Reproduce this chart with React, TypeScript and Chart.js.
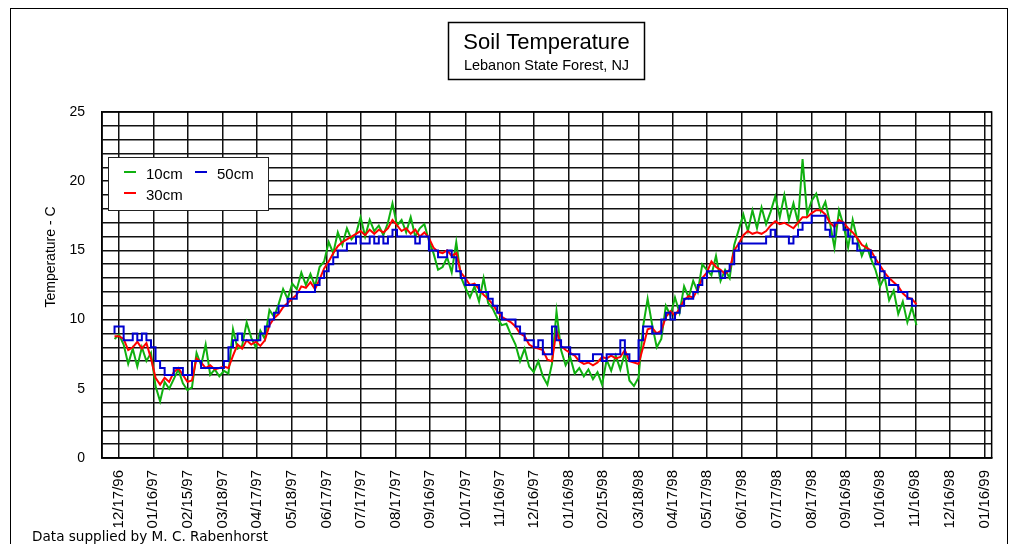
import React, { useEffect, useRef } from "react";
import { Chart, registerables } from "chart.js";

Chart.register(...registerables);

const TITLE = "Soil Temperature";
const SUBTITLE = "Lebanon State Forest, NJ";
const Y_TITLE = "Temperature - C";
const FOOTER = "Data supplied by M. C. Rabenhorst";

// x axis: days counted from 12/17/96
const TICK_DAYS = [0, 30, 60, 91, 121, 152, 182, 212, 243, 273, 304, 334, 364, 395, 425, 456, 486, 516, 547, 577, 608, 638, 668, 699, 729, 760];
const TICK_LABELS = [
  "12/17/96", "01/16/97", "02/15/97", "03/18/97", "04/17/97", "05/18/97", "06/17/97", "07/17/97",
  "08/17/97", "09/16/97", "10/17/97", "11/16/97", "12/16/97", "01/16/98", "02/15/98", "03/18/98",
  "04/17/98", "05/17/98", "06/17/98", "07/17/98", "08/17/98", "09/16/98", "10/16/98", "11/16/98",
  "12/16/98", "01/16/99",
];
const Y_TICK_LABELS = ["0", "5", "10", "15", "20", "25"];

// samples every 4 days starting at day -4
const FIRST_DAY = -4;
const DAY_STEP = 4;

const SERIES_NAMES = ["10cm", "30cm", "50cm"];
const SERIES_COLORS = ["#10b010", "#ff0000", "#0000d0"];

const T10 = [
  8.6, 8.9, 8.2, 6.8, 7.9, 6.6, 8.0, 7.0, 7.6, 5.2,
  4.1, 5.5, 5.0, 5.7, 6.4, 5.4, 4.9, 5.1, 7.6, 6.7,
  8.2, 6.0, 6.4, 5.9, 6.3, 6.1, 9.3, 7.9, 8.1, 9.8,
  8.7, 8.0, 9.2, 8.6, 10.7, 10.2, 11.1, 12.2, 11.5, 12.6,
  12.2, 13.4,
  12.5, 13.3, 12.4, 13.8, 14.2, 15.6, 14.8, 16.3, 15.4, 16.6,
  15.8, 16.2, 17.4, 16.0, 17.2, 16.4, 16.8, 16.1, 17.0, 18.4,
  16.8, 17.2, 16.3, 17.4, 16.0, 16.6, 16.9, 15.7, 14.8, 13.6,
  13.8, 14.5, 13.4, 15.6, 13.1, 12.3, 11.6, 12.4, 11.3, 13.0,
  11.2, 10.8, 10.1, 9.6, 9.7,
  8.9, 8.2, 7.0, 7.9, 6.6, 6.2, 7.0, 5.9, 5.3, 6.8,
  10.6, 7.8, 6.7, 7.3, 6.1, 6.5, 5.9, 6.4, 5.7, 6.2,
  5.3, 7.1, 6.3, 7.4, 6.4, 7.6, 5.6, 5.2, 5.8, 9.5,
  11.5, 9.6, 8.0, 8.6, 11.0, 10.3, 11.6, 10.5, 12.4, 11.6,
  12.8, 12.0, 14.0, 13.6,
  13.2, 14.6, 12.8, 13.6, 13.0, 15.4, 16.5, 17.6, 16.4, 17.9,
  16.6, 18.1, 16.9, 17.8, 18.9, 17.4, 19.0, 17.2, 18.4, 17.0,
  21.6, 17.6, 18.6, 19.1, 17.8, 18.5, 17.0, 15.2, 17.9, 16.8,
  15.2, 17.2, 15.8, 14.6, 15.4, 14.4, 13.6, 12.4, 13.1, 11.4,
  12.1, 10.4, 11.3, 9.8, 10.9, 9.6,
];

const T30 = [
  8.8, 8.8, 8.6, 7.8, 8.0, 8.4, 7.9, 8.3, 7.2, 5.8,
  5.3, 5.8, 5.5, 6.2, 6.5, 6.0, 5.5, 5.6, 7.2, 6.9,
  6.5, 6.7, 6.4, 6.5, 6.6, 6.5, 7.4, 8.2, 7.9, 8.5,
  8.2, 8.4, 8.1, 8.5, 9.6, 10.1, 10.4, 10.9, 11.2, 11.5,
  11.8, 12.4,
  12.3, 12.7, 12.2, 12.9, 13.7, 14.2, 14.8, 15.3, 15.6, 15.8,
  16.0, 16.2, 16.4, 16.1, 16.5, 16.2, 16.5, 16.3, 16.6, 17.2,
  16.8, 16.4, 16.6, 16.2, 16.5, 16.0, 16.3, 15.9, 15.2, 14.9,
  14.8, 15.0, 14.6, 14.8, 13.4, 13.0, 12.5, 12.6, 12.2, 11.8,
  11.5, 11.1, 10.6, 10.2, 10.0,
  9.8, 9.5, 9.0, 8.8, 8.2, 8.0, 7.9, 7.8, 7.1, 7.0,
  9.2, 8.1, 7.8, 7.6, 7.4, 7.0, 6.8, 6.9, 6.7, 6.9,
  7.3, 7.2, 7.4, 7.2, 7.3, 7.8, 7.0, 6.9, 6.8, 8.0,
  9.3, 9.4, 9.0, 9.2, 10.2, 10.6, 10.3, 10.8, 11.4, 11.7,
  11.6, 12.2, 13.0, 13.4,
  14.2, 13.8, 13.6, 13.3, 13.6, 15.0, 15.5, 16.1, 16.4, 16.2,
  16.3, 16.2, 16.4, 16.8, 17.1, 16.9, 17.0, 16.8, 16.6, 17.0,
  17.4, 17.4, 17.7, 17.9, 17.9, 17.6, 17.0, 16.7, 17.2, 17.0,
  16.6, 16.3, 15.9, 15.4, 15.2, 15.0, 14.4, 13.9, 13.4, 13.0,
  12.7, 12.4, 11.9, 11.6, 11.5, 11.1,
];

const T50 = [
  9.0, 9.5, 9.5, 8.5, 8.5, 9.0, 8.5, 9.0, 8.5, 8.0,
  7.0, 6.5, 6.0, 6.0, 6.5, 6.5, 6.0, 6.0, 7.0, 7.0,
  6.5, 6.5, 6.5, 6.5, 6.5, 7.0, 8.0, 8.5, 9.0, 8.5,
  8.5, 8.5, 8.5, 9.0, 9.5, 10.0, 10.5, 11.0, 11.0, 11.5,
  11.5, 12.0,
  12.0, 12.0, 12.0, 12.5, 13.0, 13.5, 14.0, 14.5, 15.0, 15.0,
  15.5, 15.5, 16.0, 15.5, 15.5, 16.0, 15.5, 16.0, 15.5, 16.0,
  16.5, 16.0, 16.0, 16.0, 16.0, 15.5, 16.0, 16.0, 15.0, 15.0,
  14.5, 14.5, 15.0, 14.5, 13.5, 13.0, 12.5, 12.5, 12.5, 12.0,
  12.0, 11.5, 11.0, 10.5, 10.0,
  10.0, 10.0, 9.5, 9.0, 8.5, 8.5, 8.0, 8.5, 7.5, 7.5,
  9.5, 8.5, 8.0, 8.0, 7.5, 7.5, 7.0, 7.0, 7.0, 7.5,
  7.5, 7.0, 7.5, 7.5, 7.5, 8.5, 7.5, 7.0, 7.0, 8.5,
  9.5, 9.5, 9.0, 9.0, 10.0, 10.5, 10.0, 10.5, 11.0, 11.5,
  11.5, 12.0, 12.5, 13.0,
  13.5, 13.5, 13.5, 13.0, 13.5, 14.0, 15.0, 15.5, 15.5, 15.5,
  15.5, 15.5, 15.5, 16.0, 16.5, 16.0, 16.0, 16.0, 15.5, 16.0,
  16.5, 17.0, 17.0, 17.5, 17.5, 17.5, 16.5, 16.0, 17.0, 17.0,
  16.5, 16.0, 15.5, 15.0, 15.0, 15.0, 14.5, 14.0, 13.5, 13.0,
  12.5, 12.5, 12.0, 12.0, 11.5, 11.0,
];

const FONT = '"Liberation Sans", Arial, sans-serif';

function toPoints(values: number[]) {
  return values.map((v, i) => ({ x: FIRST_DAY + i * DAY_STEP, y: v }));
}

const decorPlugin = {
  id: "decor",
  afterDraw(chart: any) {
    const ctx = chart.ctx as CanvasRenderingContext2D;
    const { left, top, right, bottom } = chart.chartArea;
    ctx.save();

    // outer frame
    ctx.strokeStyle = "#000";
    ctx.lineWidth = 1;
    ctx.strokeRect(10.5, 8.5, 997, 560);

    // plot border
    ctx.lineWidth = 1.5;
    ctx.strokeRect(left, top, right - left, bottom - top);

    // title box
    ctx.fillStyle = "#fff";
    ctx.fillRect(448, 22, 197, 58);
    ctx.lineWidth = 1.5;
    ctx.strokeRect(448.5, 22.5, 196, 57);
    ctx.fillStyle = "#000";
    ctx.textAlign = "center";
    ctx.textBaseline = "middle";
    ctx.font = `22px ${FONT}`;
    ctx.fillText(TITLE, 546.5, 43);
    ctx.font = `14.5px ${FONT}`;
    ctx.fillText(SUBTITLE, 546.5, 66);

    // y axis title
    ctx.save();
    ctx.translate(51, 257);
    ctx.rotate(-Math.PI / 2);
    ctx.font = `14px ${FONT}`;
    ctx.fillText(Y_TITLE, 0, 0);
    ctx.restore();

    // legend
    ctx.fillStyle = "#fff";
    ctx.fillRect(108, 157, 160, 53);
    ctx.strokeStyle = "#222";
    ctx.lineWidth = 1;
    ctx.strokeRect(108.5, 157.5, 160, 53);
    const items = [
      { name: SERIES_NAMES[0], color: SERIES_COLORS[0], x: 124, y: 175 },
      { name: SERIES_NAMES[2], color: SERIES_COLORS[2], x: 195, y: 175 },
      { name: SERIES_NAMES[1], color: SERIES_COLORS[1], x: 124, y: 196 },
    ];
    ctx.font = `15px ${FONT}`;
    ctx.textAlign = "left";
    ctx.textBaseline = "middle";
    for (const it of items) {
      ctx.strokeStyle = it.color;
      ctx.lineWidth = 2;
      ctx.beginPath();
      ctx.moveTo(it.x, it.y - 3);
      ctx.lineTo(it.x + 12, it.y - 3);
      ctx.stroke();
      ctx.fillStyle = "#000";
      ctx.fillText(it.name, it.x + 22, it.y);
    }

    // footer
    ctx.font = `13.6px "DejaVu Sans", ${FONT}`;
    ctx.textAlign = "left";
    ctx.textBaseline = "alphabetic";
    ctx.fillStyle = "#000";
    ctx.fillText(FOOTER, 32, 541);

    ctx.restore();
  },
};

export default function App() {
  const canvasRef = useRef<HTMLCanvasElement | null>(null);

  useEffect(() => {
    const canvas = canvasRef.current;
    if (!canvas) return;
    const chart = new Chart(canvas, {
      type: "line",
      data: {
        datasets: [
          {
            label: SERIES_NAMES[0],
            data: toPoints(T10),
            borderColor: SERIES_COLORS[0],
            backgroundColor: SERIES_COLORS[0],
            borderWidth: 2,
            pointRadius: 0,
            tension: 0,
            order: 3,
          },
          {
            label: SERIES_NAMES[1],
            data: toPoints(T30),
            borderColor: SERIES_COLORS[1],
            backgroundColor: SERIES_COLORS[1],
            borderWidth: 2,
            pointRadius: 0,
            tension: 0,
            order: 2,
          },
          {
            label: SERIES_NAMES[2],
            data: toPoints(T50),
            borderColor: SERIES_COLORS[2],
            backgroundColor: SERIES_COLORS[2],
            borderWidth: 2,
            pointRadius: 0,
            stepped: "after",
            order: 1,
          },
        ],
      },
      options: {
        animation: false,
        responsive: false,
        devicePixelRatio: 1,
        layout: { padding: { left: 0, right: 23, top: 112, bottom: 0 } },
        plugins: {
          legend: { display: false },
          title: { display: false },
          tooltip: { enabled: false },
        },
        scales: {
          x: {
            type: "linear",
            min: -15,
            max: 766,
            afterFit: (s: any) => {
              s.height = 86;
            },
            afterBuildTicks: (s: any) => {
              s.ticks = TICK_DAYS.map((v) => ({ value: v }));
            },
            ticks: {
              autoSkip: false,
              minRotation: 90,
              maxRotation: 90,
              padding: 12,
              color: "#000",
              font: { family: FONT, size: 15 },
              callback: (value: any) => {
                const i = TICK_DAYS.indexOf(Number(value));
                return i >= 0 ? TICK_LABELS[i] : "";
              },
            },
            grid: { color: "#111", lineWidth: 1.5, drawTicks: false },
            border: { display: true, color: "#000", width: 1.5 },
          },
          y: {
            type: "linear",
            min: 0,
            max: 25,
            afterFit: (s: any) => {
              s.width = 102;
            },
            ticks: {
              stepSize: 1,
              autoSkip: false,
              padding: 17,
              color: "#000",
              font: { family: FONT, size: 14 },
              callback: (value: any) => {
                const v = Number(value);
                return v % 5 === 0 ? Y_TICK_LABELS[v / 5] : "";
              },
            },
            grid: { color: "#111", lineWidth: 1.5, drawTicks: false },
            border: { display: true, color: "#000", width: 1.5 },
          },
        },
      },
      plugins: [decorPlugin],
    });
    return () => chart.destroy();
  }, []);

  return (
    <div style={{ position: "absolute", left: 0, top: 0, width: 1015, height: 544, background: "#fff", overflow: "hidden" }}>
      <canvas ref={canvasRef} width={1015} height={544} style={{ display: "block" }} />
    </div>
  );
}
